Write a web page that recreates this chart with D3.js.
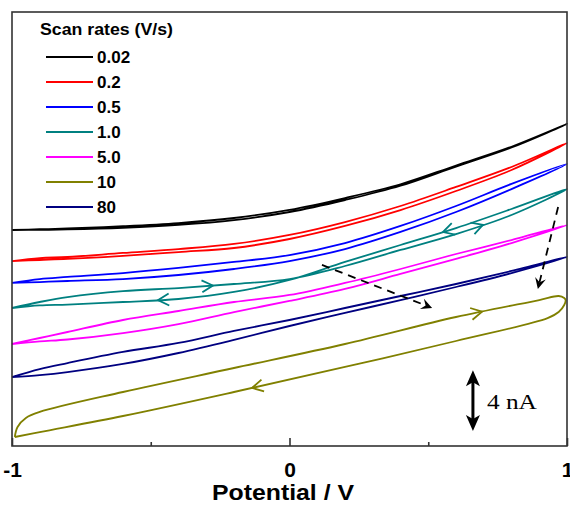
<!DOCTYPE html>
<html>
<head>
<meta charset="utf-8">
<script src="https://cdn.jsdelivr.net/npm/d3@7"></script>
<style>
body { margin: 0; background: #fff; }
svg { display: block; }
</style>
</head>
<body>
<div id="chart"></div>
<script>
// scan rates and colours of the legend
var rates = ["0.02", "0.2", "0.5", "1.0", "5.0", "10", "80"];
var colors = ["#000000", "#ff0000", "#0000ff", "#008080", "#ff00ff", "#808000", "#000080"];

// potential grid (V) used by the thin loops
var potentials = [-1, -0.9, -0.8, -0.6, -0.4, -0.2, 0, 0.2, 0.4, 0.6, 0.8, 1];

// currents (nA, offset per curve) on forward and reverse scans, read at the grid above
var fwd_002 = [14.40, 14.45, 14.50, 14.65, 14.86, 15.20, 15.74, 16.53, 17.45, 18.70, 19.95, 21.47];
var rev_002 = [14.40, 14.41, 14.44, 14.55, 14.74, 15.06, 15.60, 16.40, 17.35, 18.63, 19.90, 21.47];
var fwd_02 = [12.33, 12.53, 12.60, 12.87, 13.13, 13.47, 14.07, 14.93, 16.00, 17.27, 18.60, 20.20];
var rev_02 = [12.33, 12.40, 12.47, 12.67, 12.93, 13.20, 13.80, 14.67, 15.73, 17.00, 18.40, 20.20];
var fwd_05 = [10.87, 11.13, 11.27, 11.53, 11.87, 12.27, 12.73, 13.53, 14.67, 16.00, 17.47, 18.80];
var rev_05 = [10.87, 10.93, 11.00, 11.13, 11.40, 11.80, 12.33, 13.13, 14.27, 15.60, 17.13, 18.80];
var fwd_1 = [9.20, 9.60, 9.93, 10.33, 10.53, 10.80, 11.13, 12.00, 13.07, 14.13, 15.40, 17.13];
var rev_1 = [9.20, 9.37, 9.43, 9.60, 9.80, 10.27, 11.07, 12.27, 13.40, 14.53, 15.80, 17.13];
var fwd_5 = [6.80, 7.20, 7.60, 8.40, 9.00, 9.60, 10.07, 10.87, 11.80, 12.80, 13.73, 14.73];
var rev_5 = [6.80, 6.97, 7.10, 7.53, 8.13, 8.93, 9.67, 10.47, 11.47, 12.47, 13.53, 14.73];
var fwd_80 = [4.60, 5.13, 5.53, 6.27, 6.87, 7.67, 8.40, 9.20, 10.00, 10.80, 11.67, 12.60];
var rev_80 = [4.60, 4.73, 4.93, 5.47, 6.20, 7.07, 8.00, 8.87, 9.73, 10.60, 11.53, 12.60];

// the 10 V/s loop has its own points
var e_10_fwd = [-0.99, -0.98, -0.95, -0.9, -0.6, -0.2, 0.2, 0.6, 0.9, 0.97, 0.99, 0.995];
var i_10_fwd = [0.60, 1.27, 1.87, 2.27, 3.60, 5.20, 6.80, 8.60, 9.73, 10.00, 9.87, 9.73];
var e_10_rev = [0.99, 0.97, 0.93, 0.6, 0.2, -0.2, -0.6, -0.9, -0.99];
var i_10_rev = [9.40, 8.93, 8.53, 7.00, 5.27, 3.60, 2.00, 0.93, 0.60];

// direction arrows on the 1.0 and 10 V/s loops: potential of the arrow tip
var arrows_1_fwd = [-0.276, 0.697];
var arrows_1_rev = [-0.474, 0.553];
var arrows_10_fwd = [0.694];
var arrows_10_rev = [-0.135];

// dashed trend arrows [E, I] start and end
var trend1 = [[0.117, 12.07], [0.514, 9.20]];
var trend2 = [[0.968, 15.93], [0.895, 10.47]];

// 4 nA scale bar
var scaleE = 0.661;
var scaleI = [1.0, 5.05];

var width = 570, height = 505;
var mLeft = 12, mRight = 567, mTop = 12, mBottom = 446;
var sans = "Arial, 'Liberation Sans', sans-serif";

var svg = d3.select("#chart").append("svg")
    .attr("width", width)
    .attr("height", height);

var x = d3.scaleLinear().domain([-1, 1]).range([mLeft, mRight]);
var y = d3.scaleLinear().domain([0, (mBottom - mTop) / 15]).range([mBottom, mTop]);

var line = d3.line()
    .x(function (d) { return x(d[0]); })
    .y(function (d) { return y(d[1]); })
    .curve(d3.curveCatmullRom.alpha(0.5));

function zip(es, is) {
    return es.map(function (e, i) { return [e, is[i]]; });
}

// forward scan then back again, making a closed loop
var loops = [
    [zip(potentials, fwd_002), zip(potentials, rev_002).reverse()],
    [zip(potentials, fwd_02), zip(potentials, rev_02).reverse()],
    [zip(potentials, fwd_05), zip(potentials, rev_05).reverse()],
    [zip(potentials, fwd_1), zip(potentials, rev_1).reverse()],
    [zip(potentials, fwd_5), zip(potentials, rev_5).reverse()],
    [zip(e_10_fwd, i_10_fwd), zip(e_10_rev, i_10_rev)],
    [zip(potentials, fwd_80), zip(potentials, rev_80).reverse()]
];

var curves = svg.append("g");
loops.forEach(function (lp, k) {
    var pts = lp[0].concat(lp[1].slice(lp[1][0][0] === lp[0][lp[0].length - 1][0] ? 1 : 0));
    curves.append("path")
        .attr("d", line(pts))
        .attr("fill", "none")
        .attr("stroke", colors[k])
        .attr("stroke-width", 1.8)
        .attr("stroke-linejoin", "round");
});

// open chevron along a branch, pointing the way the branch is listed
function chevron(branch, e0, color) {
    for (var k = 0; k < branch.length - 1; k++) {
        var a = branch[k], b = branch[k + 1];
        if ((e0 - a[0]) * (e0 - b[0]) <= 0) {
            var t = (e0 - a[0]) / (b[0] - a[0]);
            var px = x(a[0]) + t * (x(b[0]) - x(a[0]));
            var py = y(a[1]) + t * (y(b[1]) - y(a[1]));
            var ang = Math.atan2(y(b[1]) - y(a[1]), x(b[0]) - x(a[0])) * 180 / Math.PI;
            curves.append("path")
                .attr("d", "M-11,-6L0,0L-11,6")
                .attr("transform", "translate(" + px + "," + py + ") rotate(" + ang + ")")
                .attr("fill", "none")
                .attr("stroke", color)
                .attr("stroke-width", 1.8);
            return;
        }
    }
}
arrows_1_fwd.forEach(function (e) { chevron(loops[3][0], e, colors[3]); });
arrows_1_rev.forEach(function (e) { chevron(loops[3][1], e, colors[3]); });
arrows_10_fwd.forEach(function (e) { chevron(loops[5][0], e, colors[5]); });
arrows_10_rev.forEach(function (e) { chevron(loops[5][1], e, colors[5]); });

// dashed trend arrows
[trend1, trend2].forEach(function (tr) {
    var x0 = x(tr[0][0]), y0 = y(tr[0][1]), x1 = x(tr[1][0]), y1 = y(tr[1][1]);
    var ang = Math.atan2(y1 - y0, x1 - x0);
    svg.append("line")
        .attr("x1", x0).attr("y1", y0)
        .attr("x2", x1 - 7 * Math.cos(ang)).attr("y2", y1 - 7 * Math.sin(ang))
        .attr("stroke", "#000")
        .attr("stroke-width", 1.8)
        .attr("stroke-dasharray", "8,6");
    svg.append("path")
        .attr("d", "M0,0L-11,-5.5L-7,0L-11,5.5Z")
        .attr("transform", "translate(" + x1 + "," + y1 + ") rotate(" + ang * 180 / Math.PI + ")")
        .attr("fill", "#000");
});

// scale bar
var sx = x(scaleE), sTop = y(scaleI[1]), sBot = y(scaleI[0]);
svg.append("line")
    .attr("x1", sx).attr("x2", sx)
    .attr("y1", sTop + 8).attr("y2", sBot - 8)
    .attr("stroke", "#000")
    .attr("stroke-width", 3);
svg.append("path")
    .attr("d", "M0,0L-7,16L0,12L7,16Z")
    .attr("transform", "translate(" + sx + "," + sTop + ")")
    .attr("fill", "#000");
svg.append("path")
    .attr("d", "M0,0L-7,-16L0,-12L7,-16Z")
    .attr("transform", "translate(" + sx + "," + sBot + ")")
    .attr("fill", "#000");
svg.append("text")
    .attr("x", sx + 14)
    .attr("y", y((scaleI[0] + scaleI[1]) / 2) + 8)
    .attr("font-family", "'Times New Roman', 'Liberation Serif', serif")
    .attr("font-size", 21)
    .attr("textLength", 50)
    .attr("lengthAdjust", "spacingAndGlyphs")
    .text("4 nA");

// frame
svg.append("rect")
    .attr("x", mLeft).attr("y", mTop)
    .attr("width", mRight - mLeft).attr("height", mBottom - mTop)
    .attr("fill", "none")
    .attr("stroke", "#333")
    .attr("stroke-width", 1.6);

// axis ticks (inward)
var major = svg.append("g")
    .attr("transform", "translate(0," + mBottom + ")")
    .call(d3.axisBottom(x)
        .tickValues([-1, 0, 1])
        .tickSizeInner(-8)
        .tickSizeOuter(0)
        .tickPadding(16)
        .tickFormat(function (d) { return String(d); }));
var minor = svg.append("g")
    .attr("transform", "translate(0," + mBottom + ")")
    .call(d3.axisBottom(x)
        .tickValues([-0.5, 0.5])
        .tickSizeInner(-4)
        .tickSizeOuter(0)
        .tickFormat(""));
svg.selectAll(".domain").remove();
svg.selectAll(".tick line").attr("stroke", "#333").attr("stroke-width", 1.6);
major.selectAll("text")
    .attr("font-family", sans)
    .attr("font-weight", "bold")
    .attr("font-size", 21)
    .attr("fill", "#000");

svg.append("text")
    .attr("x", 283)
    .attr("y", 500)
    .attr("text-anchor", "middle")
    .attr("font-family", sans)
    .attr("font-weight", "bold")
    .attr("font-size", 22)
    .attr("textLength", 142)
    .attr("lengthAdjust", "spacingAndGlyphs")
    .text("Potential / V");

// legend
var legend = svg.append("g")
    .attr("font-family", sans)
    .attr("font-weight", "bold");
legend.append("text")
    .attr("x", 40).attr("y", 35)
    .attr("font-size", 16)
    .attr("textLength", 133)
    .attr("lengthAdjust", "spacingAndGlyphs")
    .text("Scan rates (V/s)");
rates.forEach(function (r, i) {
    var ly = 57 + i * 25;
    legend.append("line")
        .attr("x1", 46).attr("x2", 93)
        .attr("y1", ly).attr("y2", ly)
        .attr("stroke", colors[i])
        .attr("stroke-width", 2);
    legend.append("text")
        .attr("x", 97).attr("y", ly + 6)
        .attr("font-size", 17)
        .text(r);
});
</script>
</body>
</html>
